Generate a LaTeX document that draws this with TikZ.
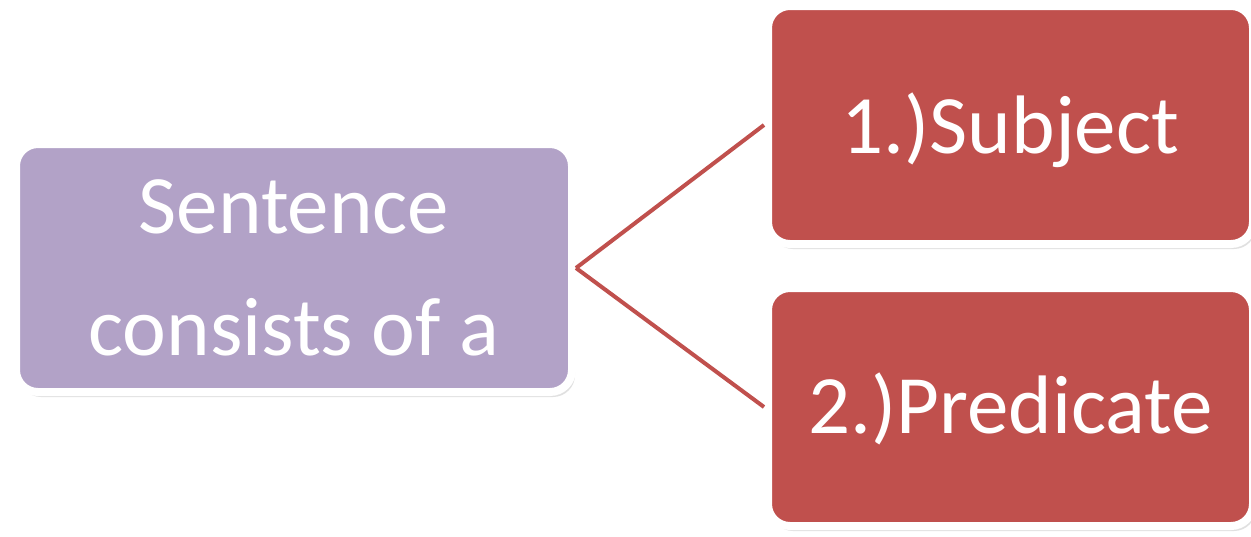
\documentclass[tikz,border=0pt]{standalone}
\usepackage{fontspec}
\setmainfont{Carlito}
\usetikzlibrary{shadows}
\definecolor{boxpurple}{HTML}{B2A2C7}
\definecolor{boxred}{HTML}{C0504D}
\tikzset{
  box/.style={rectangle, rounded corners=22pt, draw=white, line width=8pt,
    text=white, align=center, inner sep=0pt,
    font=\fontsize{83pt}{122pt}\selectfont,
    drop shadow={shadow xshift=3pt, shadow yshift=-5pt, opacity=0.2, fill=black!60}},
  conn/.style={draw=boxred, line width=4pt}
}
\begin{document}
\begin{tikzpicture}[x=1pt, y=-1pt]
\useasboundingbox (0,0) rectangle (1251,536);
\node[box, fill=boxpurple, minimum width=556pt, minimum height=248pt] (sent) at (294,268) {Sentence\\consists of a};
\node[box, fill=boxred, minimum width=485pt, minimum height=238pt] (subj) at (1010.5,125) {\raisebox{-5pt}[\height][\depth]{1.)Subject}};
\node[box, fill=boxred, minimum width=485pt, minimum height=238pt] (pred) at (1010.5,407) {\raisebox{-2pt}[\height][\depth]{2.)Predicate}};
\draw[conn] (sent.east) -- (subj.west);
\draw[conn] (sent.east) -- (pred.west);
\end{tikzpicture}
\end{document}
